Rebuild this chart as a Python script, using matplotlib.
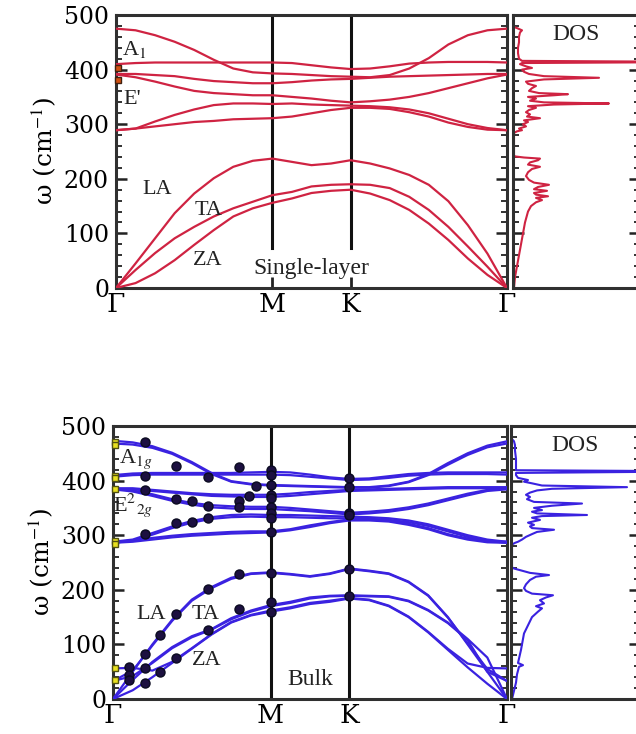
import numpy as np
import matplotlib.pyplot as plt

plt.rcParams['mathtext.fontset'] = 'stix'

# k-path: Gamma=0, M=1, K=1.5, Gamma=2.5
kpts = [0, .125, .25, .375, .5, .625, .75, .875, 1.0,
        1.125, 1.25, 1.375, 1.5,
        1.625, 1.75, 1.875, 2.0, 2.125, 2.25, 2.375, 2.5]
kticks = [0, 1.0, 1.5, 2.5]
klabels = ['Γ', 'M', 'K', 'Γ']

# ---- single layer bands (cm-1)
sl_bands = [
    [475, 472, 463, 451, 436, 418, 402, 395, 393, 392, 390, 388, 387, 386, 390, 402, 421, 446, 463, 472, 475],
    [410, 412, 413, 413, 413, 413, 413, 413, 413, 412, 408, 404, 401, 402, 406, 411, 413, 414, 414, 414, 413],
    [392, 392, 390, 388, 383, 379, 377, 375, 375, 377, 380, 382, 383, 385, 387, 388, 389, 390, 391, 392, 392],
    [391, 386, 378, 369, 361, 357, 355, 353, 353, 350, 347, 343, 340, 342, 345, 350, 357, 366, 375, 384, 391],
    [289, 292, 305, 317, 327, 335, 338, 338, 337, 338, 336, 335, 334, 333, 331, 327, 320, 310, 300, 293, 289],
    [289, 292, 296, 300, 304, 306, 309, 310, 311, 314, 320, 326, 330, 330, 328, 322, 314, 303, 295, 290, 289],
    [0, 45, 91, 137, 173, 201, 222, 233, 237, 231, 225, 228, 234, 228, 219, 207, 189, 159, 115, 63, 0],
    [0, 33, 64, 91, 112, 131, 146, 158, 170, 176, 186, 189, 190, 189, 183, 167, 143, 112, 76, 39, 0],
    [0, 9, 27, 51, 79, 106, 131, 146, 156, 164, 174, 178, 180, 173, 161, 143, 118, 88, 54, 24, 0],
]
sl_gamma_exp = [403, 381]

# ---- bulk bands (cm-1)
bk_bands = [
    [473, 470, 463, 451, 434, 414, 399, 394, 392, 391, 390, 389, 388, 388, 391, 398, 412, 432, 450, 464, 472],
    [468, 466, 460, 449, 432, 412, 398, 393, 391, 390, 389, 388, 387, 387, 390, 397, 410, 429, 447, 461, 468],
    [410, 413, 414, 414, 414, 414, 414, 415, 416, 415, 411, 406, 403, 404, 408, 412, 414, 415, 415, 415, 415],
    [407, 410, 411, 411, 411, 411, 411, 411, 411, 410, 407, 404, 401, 402, 405, 409, 411, 412, 412, 412, 411],
    [386, 386, 383, 380, 377, 375, 374, 374, 374, 376, 379, 381, 383, 384, 385, 386, 387, 388, 388, 388, 388],
    [384, 384, 381, 378, 375, 372, 371, 370, 370, 372, 375, 378, 381, 382, 383, 384, 385, 386, 386, 386, 386],
    [386, 382, 375, 366, 359, 355, 353, 352, 352, 350, 347, 344, 341, 343, 346, 351, 358, 367, 376, 383, 386],
    [384, 380, 372, 363, 356, 351, 349, 348, 348, 346, 344, 341, 338, 340, 343, 348, 355, 364, 373, 381, 384],
    [288, 292, 304, 316, 326, 333, 337, 338, 337, 337, 336, 335, 334, 333, 331, 327, 320, 310, 300, 292, 288],
    [286, 290, 301, 313, 323, 330, 333, 334, 333, 333, 332, 331, 331, 330, 328, 324, 317, 307, 297, 290, 286],
    [288, 290, 295, 299, 302, 304, 306, 307, 307, 311, 318, 324, 329, 329, 327, 321, 313, 302, 294, 289, 288],
    [286, 288, 292, 296, 299, 301, 303, 304, 305, 309, 315, 322, 327, 327, 325, 319, 311, 300, 292, 287, 286],
    [0, 50, 100, 145, 182, 205, 222, 230, 232, 229, 225, 230, 239, 235, 230, 215, 190, 150, 100, 50, 0],
    [33, 52, 98, 143, 180, 203, 220, 229, 231, 228, 224, 229, 238, 234, 229, 214, 189, 149, 102, 55, 33],
    [0, 35, 68, 95, 115, 128, 148, 162, 172, 178, 186, 189, 190, 189, 188, 180, 163, 140, 110, 76, 0],
    [33, 42, 66, 93, 113, 127, 146, 160, 170, 176, 184, 188, 189, 188, 187, 179, 162, 139, 108, 50, 33],
    [0, 16, 40, 66, 92, 118, 140, 153, 160, 166, 174, 178, 184, 181, 170, 150, 122, 90, 58, 28, 0],
    [56, 57, 52, 68, 93, 119, 141, 154, 162, 168, 176, 180, 185, 182, 171, 151, 123, 92, 65, 57, 56],
]
bk_gamma_exp = [471, 466, 409, 404, 385, 290, 283, 57, 35]
bk_exp_k = [0.2, 0.4, 0.8, 0.6, 0.2, 0.91, 0.86, 0.2, 0.4, 0.5, 0.6, 0.8, 0.8, 0.4, 0.5, 0.6, 0.2,
            0.8, 0.6, 0.4, 0.3, 0.2, 0.1, 0.8, 0.6, 0.4, 0.3, 0.2, 0.2, 0.1, 0.1,
            1, 1, 1, 1, 1, 1, 1, 1, 1, 1, 1, 1,
            1.5, 1.5, 1.5, 1.5, 1.5, 1.5]
bk_exp_w = [471, 427, 424, 406, 408, 391, 372, 383, 366, 363, 353, 363, 352, 322, 325, 331, 302,
            229, 201, 155, 117, 82, 59, 164, 126, 76, 50, 56, 29, 44, 35,
            419, 410, 392, 374, 368, 352, 340, 331, 306, 231, 178, 160,
            404, 388, 340, 337, 239, 189]

# ---- phonon DOS (arb. units)
sl_dos_w = [0, 20, 40, 60, 80, 100, 120, 140, 150, 157, 161, 165, 168, 171, 174, 178, 181, 185, 189, 193,
            198, 205, 212, 218, 222, 226, 230, 234, 237, 239, 241, 243, 284, 287, 289, 292, 296, 300, 304,
            307, 311, 314, 318, 322, 326, 330, 333, 336, 338, 340, 343, 347, 350, 353, 355, 357, 361, 366,
            370, 374, 378, 382, 385, 388, 392, 396, 400, 403, 406, 410, 412, 414, 416, 420, 430, 440, 450,
            460, 468, 472, 476, 478]
sl_dos = [0, 1, 3, 5, 7, 9, 11, 14, 17, 22, 28, 22, 34, 22, 20, 33, 20, 24, 35, 20,
          15, 12, 14, 18, 26, 14, 16, 24, 26, 10, 1, 0, 0, 3, 8, 5, 12, 9, 14,
          10, 26, 13, 16, 12, 15, 22, 14, 40, 95, 30, 16, 22, 14, 40, 54, 25, 15, 18,
          22, 14, 12, 30, 85, 30, 15, 10, 8, 18, 12, 6, 8, 200, 8, 5, 4, 4, 5,
          5, 6, 8, 3, 0]
bk_dos_w = [0, 15, 30, 45, 59, 62, 66, 90, 120, 150, 160, 166, 170, 175, 181, 186, 190, 193, 198, 203,
            210, 218, 224, 227, 231, 236, 239, 241, 283, 286, 288, 292, 297, 302, 306, 310, 313, 316, 319,
            323, 328, 332, 335, 337, 340, 343, 346, 350, 354, 358, 361, 366, 370, 374, 378, 382, 385, 388,
            391, 395, 398, 401, 405, 410, 414, 417, 419, 425, 440, 455, 465, 472, 476]
bk_dos = [0, 2, 4, 5, 7, 11, 6, 9, 12, 20, 26, 30, 24, 32, 28, 34, 41, 20, 14, 12,
          14, 18, 24, 37, 18, 8, 2, 0, 0, 3, 6, 10, 14, 20, 25, 42, 20, 18, 22,
          16, 28, 20, 30, 75, 25, 20, 30, 22, 40, 70, 22, 15, 18, 14, 18, 25, 40, 115,
          30, 20, 12, 16, 6, 4, 4, 200, 4, 4, 4, 3, 3, 2, 0]

RED = '#cf2342'
BLUE = '#3a22e0'
SPINE = '#303030'

W, H = 636, 734
fig = plt.figure(figsize=(W / 100, H / 100), dpi=100)


def fpos(x0, x1, ytop, ybot):
    return [x0 / W, 1 - ybot / H, (x1 - x0) / W, (ybot - ytop) / H]


def style(ax):
    for s in ax.spines.values():
        s.set_linewidth(2.2)
        s.set_color(SPINE)
    ax.set_ylim(0, 500)
    ax.set_yticks([0, 100, 200, 300, 400, 500])
    ax.set_yticks(np.arange(0, 501, 20), minor=True)
    ax.tick_params(which='major', direction='in', length=8, width=1.8, left=True, right=True, color='#222')
    ax.tick_params(which='minor', direction='in', length=4, width=1.3, left=True, right=True, color='#222')


def disp_panel(pos, bands, color, label, full_vlines):
    ax = fig.add_axes(pos)
    for b in bands:
        ax.plot(kpts, b, color=color, lw=1.6, zorder=3)
    ax.set_xlim(0, 2.5)
    style(ax)
    ax.set_xticks(kticks)
    ax.set_xticklabels(klabels, family='DejaVu Serif', fontsize=19)
    ax.tick_params(axis='x', which='major', direction='in', length=8, width=2, pad=3)
    ax.tick_params(axis='x', which='minor', bottom=False, top=False)
    ax.set_yticklabels(['0', '100', '200', '300', '400', '500'], family='DejaVu Serif', fontsize=17)
    ax.tick_params(axis='y', pad=5)
    ymin = 0 if full_vlines else 0.146
    for kx in (1.0, 1.5):
        ax.axvline(kx, ymin=ymin, color='#111', lw=2.2, zorder=2)
    ax.set_ylabel('ω (cm$^{-1}$)', family='DejaVu Serif', fontsize=18, labelpad=4)
    ax.text(1.25, 35, label, ha='center', va='center',
            family='Liberation Serif', fontsize=17, color='#222')
    return ax


def dos_panel(pos, w, d, color, xmax):
    ax = fig.add_axes(pos)
    ax.plot(d, w, color=color, lw=1.5)
    ax.set_xlim(-1, xmax)
    style(ax)
    ax.set_xticks([])
    ax.set_yticklabels([])
    ax.text(0.5, 0.93, 'DOS', transform=ax.transAxes, ha='center', va='center',
            family='Liberation Serif', fontsize=17, color='#222')
    return ax


# ---- top: single layer
ax1 = disp_panel(fpos(116, 507, 15, 288), sl_bands, RED, 'Single-layer', False)
ax1.plot([0.012] * len(sl_gamma_exp), sl_gamma_exp, 's', ms=5, mfc='#d05010', mec='#402010', mew=1, zorder=5,
         clip_on=False)
tfont = dict(family='Liberation Serif', fontsize=16, color='#222')
ax1.text(0.04, 426, 'A$_1$', **tfont)
ax1.text(0.05, 337, "E'", **tfont)
ax1.text(0.17, 172, 'LA', **tfont)
ax1.text(0.50, 134, 'TA', **tfont)
ax1.text(0.49, 42, 'ZA', **tfont)
dos_panel(fpos(513, 640, 15, 288), sl_dos_w, sl_dos, RED, 126)

# ---- bottom: bulk
ax2 = disp_panel(fpos(113, 507, 426, 699), bk_bands, BLUE, 'Bulk', True)
ax2.plot(bk_exp_k, bk_exp_w, 'o', ms=6.5, mfc='#1c1040', mec='#0a0a20', zorder=5)
ax2.plot([0.012] * len(bk_gamma_exp), bk_gamma_exp, 's', ms=5, mfc='#e8e020', mec='#505010', mew=1, zorder=5,
         clip_on=False)
ax2.text(0.04, 432, 'A$_{1g}$', **tfont)
ax2.text(0.0, 345, 'E$^2$$_{2g}$', **tfont)
ax2.text(0.15, 147, 'LA', **tfont)
ax2.text(0.50, 147, 'TA', **tfont)
ax2.text(0.50, 62, 'ZA', **tfont)
dos_panel(fpos(511, 640, 426, 699), bk_dos_w, bk_dos, BLUE, 128)

fig.savefig('out.png', dpi=100)
